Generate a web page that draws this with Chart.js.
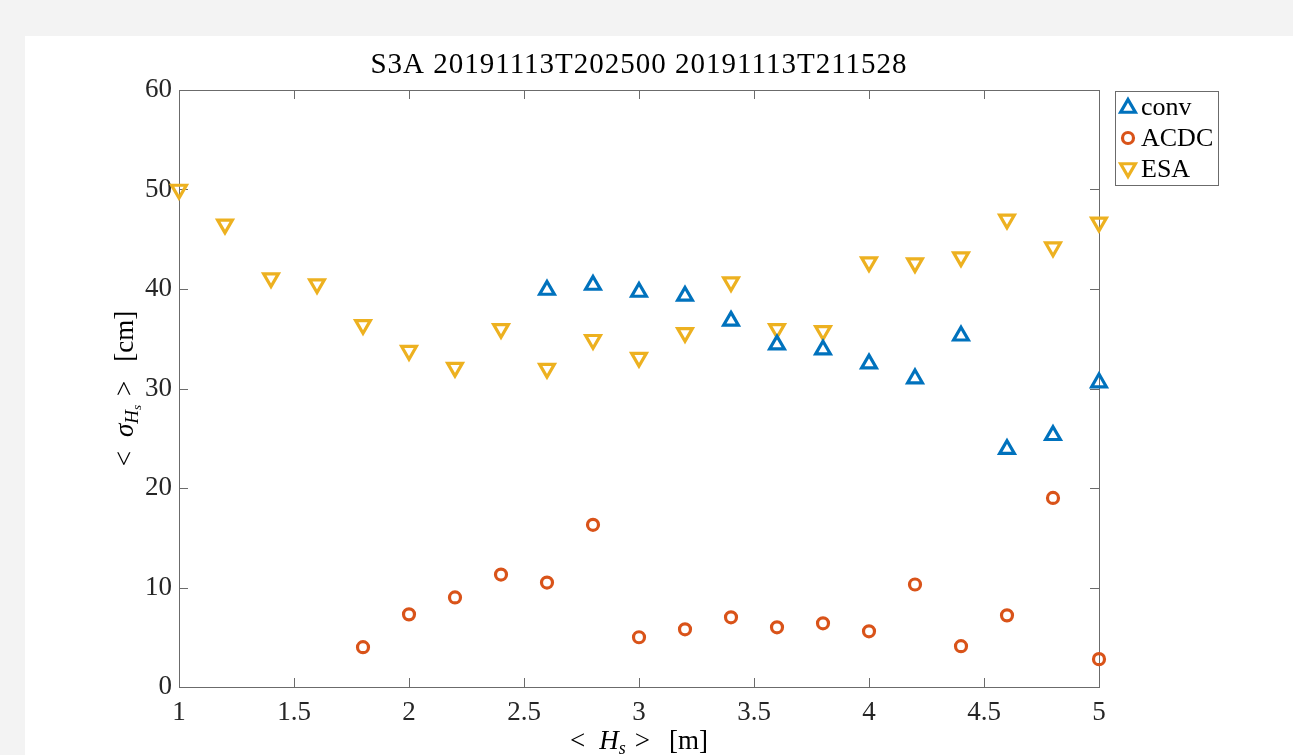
<!DOCTYPE html>
<html><head><meta charset="utf-8">
<script src="https://cdn.jsdelivr.net/npm/chart.js@4.4.1/dist/chart.umd.min.js"></script>
<style>
html,body{margin:0;padding:0;background:#f3f3f3;width:1293px;height:755px;overflow:hidden}
#wrap{position:absolute;left:25px;top:36px;width:1268px;height:719px;background:#fff}
canvas{display:block}
</style></head><body>
<div id="wrap"><canvas id="c" width="1268" height="719"></canvas></div>
<script>
const titleText = 'S3A 20191113T202500 20191113T211528';
const hs = [1.0,1.2,1.4,1.6,1.8,2.0,2.2,2.4,2.6,2.8,3.0,3.2,3.4,3.6,3.8,4.0,4.2,4.4,4.6,4.8,5.0];
const conv = [null,null,null,null,null,null,null,null,39.9,40.4,39.7,39.3,36.8,34.4,33.9,32.5,31.0,35.3,23.9,25.3,30.6];
const acdc = [null,null,null,null,4.0,7.3,9.0,11.3,10.5,16.3,5.0,5.8,7.0,6.0,6.4,5.6,10.3,4.1,7.2,19.0,2.8];
const esa = [50.0,46.5,41.1,40.5,36.4,33.8,32.1,36.0,32.0,34.9,33.1,35.6,40.7,36.0,35.8,42.7,42.6,43.2,47.0,44.2,46.7];
const xTicks = [1,1.5,2,2.5,3,3.5,4,4.5,5];
const yTicks = [0,10,20,30,40,50,60];
const seriesNames = ['conv','ACDC','ESA'];
const colors = ['#0072BD','#D95319','#EDB120'];

const FONT = '"Liberation Serif", serif';
const toPts = arr => hs.map((x,i)=>({x:x,y:arr[i]})).filter(p=>p.y!==null);

function drawMath(ctx, segs, cx, cy){
  let total=0;
  segs.forEach(s=>{ctx.font=(s.it?'italic ':'')+s.size+'px '+FONT; s.w=ctx.measureText(s.t).width; total+=s.w+(s.sp||0);});
  let x=cx-total/2;
  ctx.textAlign='left'; ctx.textBaseline='alphabetic';
  segs.forEach(s=>{ctx.font=(s.it?'italic ':'')+s.size+'px '+FONT; ctx.fillText(s.t,x,cy+(s.dy||0)); x+=s.w+(s.sp||0);});
}

const deco = {
  id:'deco',
  beforeDatasetsDraw(chart){
    const ctx=chart.ctx, a=chart.chartArea, xs=chart.scales.x, ys=chart.scales.y;
    ctx.save();
    ctx.strokeStyle='#6b6b6b'; ctx.lineWidth=1;
    ctx.strokeRect(Math.round(a.left)+0.5,Math.round(a.top)+0.5,Math.round(a.right-a.left),Math.round(a.bottom-a.top));
    const tl=9;
    ctx.beginPath();
    xTicks.forEach(v=>{const px=Math.round(xs.getPixelForValue(v))+0.5;
      ctx.moveTo(px,a.bottom);ctx.lineTo(px,a.bottom-tl);ctx.moveTo(px,a.top);ctx.lineTo(px,a.top+tl);});
    yTicks.forEach(v=>{const py=Math.round(ys.getPixelForValue(v))+0.5;
      ctx.moveTo(a.left,py);ctx.lineTo(a.left+tl,py);ctx.moveTo(a.right,py);ctx.lineTo(a.right-tl,py);});
    ctx.stroke();
    ctx.restore();
  },
  afterDraw(chart){
    const ctx=chart.ctx, a=chart.chartArea;
    ctx.save();
    ctx.fillStyle='#000';
    ctx.font='29px '+FONT; ctx.textAlign='center'; ctx.textBaseline='alphabetic';
    ctx.letterSpacing='1px';
    ctx.fillText(titleText,(a.left+a.right)/2,a.top-17);
    ctx.letterSpacing='0px';
    // x label
    drawMath(ctx,[{t:'<',size:27,sp:14},{t:'H',size:27,it:true},{t:'s',size:18,it:true,dy:5,sp:9},{t:'>',size:27,sp:19},{t:'[m]',size:27}],(a.left+a.right)/2,a.bottom+62);
    // y label
    ctx.save();
    ctx.translate(a.left-46,(a.top+a.bottom)/2);
    ctx.rotate(-Math.PI/2);
    drawMath(ctx,[{t:'<',size:27,sp:14},{t:'σ',size:27,it:true},{t:'H',size:19,it:true,dy:5},{t:'s',size:13,it:true,dy:8,sp:9},{t:'>',size:27,sp:19},{t:'[cm]',size:27}],0,0);
    ctx.restore();
    // legend
    const lx=a.right+16, ly=a.top+1, lw=103, lh=94;
    ctx.fillStyle='#fff'; ctx.fillRect(lx,ly,lw,lh);
    ctx.strokeStyle='#6b6b6b'; ctx.lineWidth=1; ctx.strokeRect(lx+0.5,ly+0.5,lw,lh);
    const styles=['triangle','circle','triangle'], rots=[0,0,180], rads=[8.5,5.5,8.5], offs=[1,0,-1];
    seriesNames.forEach((n,i)=>{
      const yy=ly+16+i*31;
      ctx.strokeStyle=colors[i]; ctx.fillStyle='rgba(0,0,0,0)'; ctx.lineWidth=3.2;
      Chart.helpers.drawPoint(ctx,{pointStyle:styles[i],radius:rads[i],rotation:rots[i],borderWidth:3.2},lx+13,yy+offs[i]);
      ctx.fillStyle='#000'; ctx.font='26px '+FONT; ctx.textAlign='left'; ctx.textBaseline='middle';
      ctx.fillText(n,lx+26,yy+1);
    });
    ctx.restore();
  }
};

const mk=(i,data,style,rot,r)=>({label:seriesNames[i],data:toPts(data),pointStyle:style,rotation:rot,pointRadius:r,pointHoverRadius:r,
  borderColor:colors[i],backgroundColor:'rgba(0,0,0,0)',pointBorderWidth:3.2,showLine:false,clip:false});

new Chart(document.getElementById('c'),{
  type:'scatter',
  data:{datasets:[mk(0,conv,'triangle',0,8.5),mk(1,acdc,'circle',0,5.5),mk(2,esa,'triangle',180,8.5)]},
  options:{
    responsive:false,animation:false,devicePixelRatio:1,
    layout:{padding:{left:0,top:54,right:194,bottom:0}},
    plugins:{legend:{display:false},tooltip:{enabled:false},title:{display:false}},
    scales:{
      x:{type:'linear',min:1,max:5,
        afterBuildTicks(s){s.ticks=xTicks.map(v=>({value:v}));},
        afterFit(s){s.height=68;},
        grid:{display:false,drawTicks:false},border:{display:false},
        ticks:{color:'#262626',font:{family:FONT,size:27},padding:10,maxRotation:0,autoSkip:false,callback:v=>String(v)}},
      y:{type:'linear',min:0,max:60,
        afterBuildTicks(s){s.ticks=yTicks.map(v=>({value:v}));},
        afterFit(s){s.width=154;},
        grid:{display:false,drawTicks:false},border:{display:false},
        ticks:{color:'#262626',font:{family:FONT,size:27},padding:7,autoSkip:false,callback:v=>String(v)}}
    }
  },
  plugins:[deco]
});
</script></body></html>
